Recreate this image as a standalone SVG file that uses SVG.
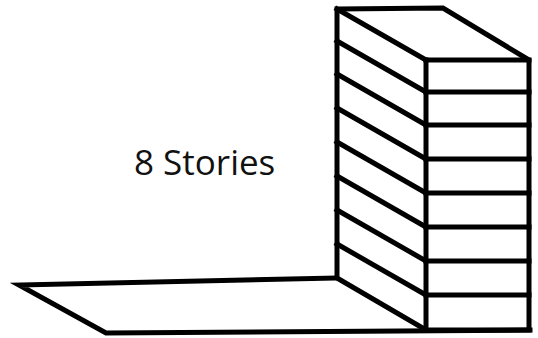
<svg xmlns="http://www.w3.org/2000/svg" width="538" height="338" viewBox="0 0 538 338">
  <style>
    .ln { fill: none; stroke: #000; stroke-width: 5; stroke-linejoin: miter; stroke-linecap: square; }
    .lbl { font-family: "Open Sans", "Noto Sans", sans-serif; font-size: 35px; fill: #111; }
  </style>
  <rect width="538" height="338" fill="#fff"/>
  <!-- ground slab -->
  <g id="ground">
    <polyline class="ln" points="335,278 19,285 106,333 530,330"/>
  </g>
  <!-- building block -->
  <g id="building">
    <!-- outline -->
    <polygon class="ln" points="337,9 443,8 529,60 529,330 426,330 337,278"/>
    <line class="ln" x1="337" y1="9" x2="426" y2="60"/>
    <line class="ln" x1="426" y1="60" x2="529" y2="60"/>
    <line class="ln" x1="426" y1="60" x2="426" y2="330"/>
    <!-- floor lines, side face -->
    <line class="ln" x1="337" y1="41" x2="426" y2="92"/>
    <line class="ln" x1="337" y1="74" x2="426" y2="125"/>
    <line class="ln" x1="337" y1="108" x2="426" y2="159"/>
    <line class="ln" x1="337" y1="142" x2="426" y2="193"/>
    <line class="ln" x1="337" y1="176" x2="426" y2="227"/>
    <line class="ln" x1="337" y1="210" x2="426" y2="261"/>
    <line class="ln" x1="337" y1="244" x2="426" y2="295"/>
    <!-- floor lines, front face -->
    <line class="ln" x1="426" y1="92" x2="529" y2="92"/>
    <line class="ln" x1="426" y1="125" x2="529" y2="125"/>
    <line class="ln" x1="426" y1="159" x2="529" y2="159"/>
    <line class="ln" x1="426" y1="193" x2="529" y2="193"/>
    <line class="ln" x1="426" y1="227" x2="529" y2="227"/>
    <line class="ln" x1="426" y1="261" x2="529" y2="261"/>
    <line class="ln" x1="426" y1="295" x2="529" y2="295"/>
  </g>
  <g id="label">
    <text class="lbl" x="134" y="175">8 Stories</text>
  </g>
</svg>
